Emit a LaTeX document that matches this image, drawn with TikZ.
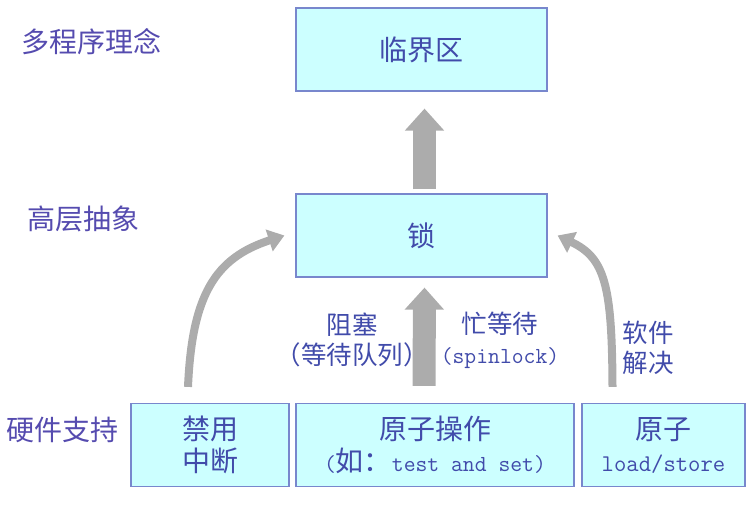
\documentclass[tikz,border=0pt]{standalone}
\usepackage{fontspec}
\setmainfont{Noto Sans CJK SC}
\usepackage{tikz}
\usetikzlibrary{arrows.meta, positioning, calc}
\usepackage{xcolor}
\definecolor{boxfill}{RGB}{204,255,255}
\definecolor{boxline}{RGB}{120,135,205}
\definecolor{inktext}{RGB}{65,75,170}
\definecolor{sidetext}{RGB}{85,75,175}
\definecolor{arrowgray}{RGB}{172,172,172}

\begin{document}
\begin{tikzpicture}[x=1pt, y=-1pt,
  layer/.style={draw=boxline, line width=1.2pt, fill=boxfill, text=inktext,
    font=\fontsize{28}{32}\selectfont, align=center, inner sep=0pt},
  side/.style={text=sidetext, font=\fontsize{28}{30}\selectfont},
  note/.style={text=inktext, font=\fontsize{25.5}{30}\selectfont, align=center},
  mono/.style={font=\ttfamily\fontsize{23}{32}\selectfont},
  blockarrow/.style={arrowgray, line width=23pt,
    -{Triangle[length=22pt, width=38pt]}},
  bentarrow/.style={arrowgray, line width=8pt,
    -{Triangle[length=16pt, width=22pt]}}]
  \useasboundingbox (0,0) rectangle (751,508);
  % boxes
  \node[layer, minimum width=251pt, minimum height=83pt] (crit) at (421.5,49.5) {临界区};
  \node[layer, minimum width=251pt, minimum height=83pt] (lock) at (421.5,235.5) {锁};
  \node[layer, minimum width=158pt, minimum height=83pt] (irq) at (210,445) {禁用\\中断};
  \node[layer, minimum width=278pt, minimum height=83pt] (atom) at (435,445)
    {原子操作\\{\ttfamily\fontsize{23}{32}\selectfont(}如：{\ttfamily\fontsize{23}{32}\selectfont test and set)}};
  \node[layer, minimum width=163pt, minimum height=83pt] (ldst) at (663.5,445)
    {原子\\{\ttfamily\fontsize{24}{32}\selectfont load/store}};
  % side labels
  \node[side] (idea) at (91,42) {多程序理念};
  \node[side] (abst) at (83,219) {高层抽象};
  \node[side] (hw) at (62,430) {硬件支持};
  % arrows
  \draw[blockarrow] ($(lock.north)+(3,-4)$) -- ($(crit.south)+(3,17)$);
  \draw[blockarrow] ($(atom.north)+(-11,-17)$) -- ($(lock.south)+(3,10)$);
  \draw[bentarrow] ($(irq.north)+(-22,-16)$) .. controls (192,295) and (215,258) .. ($(lock.west)+(-11,0)$);
  \draw[bentarrow] ($(ldst.north)+(-51,-16)$) .. controls (612,285) and (605,258) .. ($(lock.east)+(10,0)$);
  % arrow labels
  \node[note] (block) at (352,340) {阻塞\\（等待队列）};
  \node[note] (busy) at (500,340) {忙等待\\{\ttfamily\fontsize{23}{30}\selectfont(spinlock)}};
  \node[note] (soft) at (648,348) {软件\\解决};
\end{tikzpicture}
\end{document}
